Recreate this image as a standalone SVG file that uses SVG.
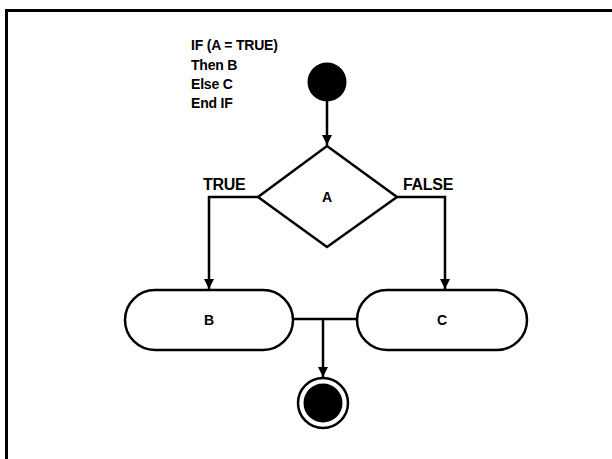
<svg xmlns="http://www.w3.org/2000/svg" width="612" height="459" viewBox="0 0 612 459">
<style>
text{font-family:"Liberation Sans",Arial,sans-serif;font-weight:bold;font-size:14px;fill:#000;letter-spacing:-0.2px}
.lbl{font-size:16px;letter-spacing:-0.3px}
.s{fill:#fff;stroke:#000;stroke-width:2.5}
.c{fill:none;stroke:#000;stroke-width:2.5}
</style>
<defs>
<marker id="ah" markerWidth="12" markerHeight="12" refX="10" refY="5" orient="auto" markerUnits="userSpaceOnUse">
<path d="M0,0 L10,5 L0,10 Z" fill="#000"/>
</marker>
</defs>
<rect width="612" height="459" fill="#fff"/>
<path d="M6.5,470 V10.5 H620" fill="none" stroke="#000" stroke-width="3"/>
<g id="note">
<text x="191" y="50">IF (A = TRUE)</text>
<text x="191" y="70">Then B</text>
<text x="191" y="89">Else C</text>
<text x="191" y="108">End IF</text>
</g>
<g id="connectors">
<path class="c" d="M327,101 V145" marker-end="url(#ah)"/>
<path class="c" d="M258,197 H209 V289" marker-end="url(#ah)"/>
<path class="c" d="M397,197 H445 V289" marker-end="url(#ah)"/>
<path class="c" d="M293,319 H357"/>
<path class="c" d="M323,319 V377" marker-end="url(#ah)"/>
<text class="lbl" x="203" y="190">TRUE</text>
<text class="lbl" x="403" y="190">FALSE</text>
</g>
<g id="start"><circle cx="327" cy="82" r="19.5" fill="#000"/></g>
<g id="A"><path class="s" d="M327,146 L397,197 L327,247 L258,197 Z"/><text x="327" y="202" text-anchor="middle">A</text></g>
<g id="B"><rect class="s" x="125" y="290" width="168" height="60" rx="30"/><text x="209" y="325" text-anchor="middle">B</text></g>
<g id="C"><rect class="s" x="357" y="290" width="170" height="60" rx="30"/><text x="442" y="325" text-anchor="middle">C</text></g>
<g id="end"><circle cx="323" cy="403" r="25" fill="#fff" stroke="#000" stroke-width="2.5"/><circle cx="323" cy="403" r="19.5" fill="#000"/></g>
</svg>
